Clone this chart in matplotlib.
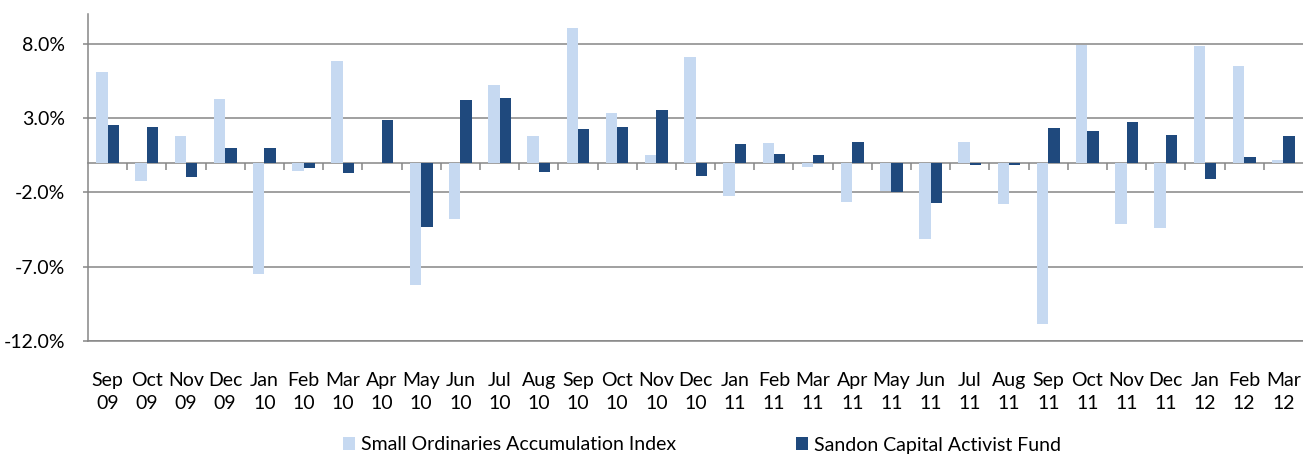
import matplotlib
matplotlib.use("Agg")
import matplotlib.pyplot as plt
import numpy as np

months = ["Sep", "Oct", "Nov", "Dec", "Jan", "Feb", "Mar", "Apr", "May", "Jun",
          "Jul", "Aug", "Sep", "Oct", "Nov", "Dec", "Jan", "Feb", "Mar", "Apr",
          "May", "Jun", "Jul", "Aug", "Sep", "Oct", "Nov", "Dec", "Jan", "Feb", "Mar"]
years = ["09", "09", "09", "09", "10", "10", "10", "10", "10", "10",
         "10", "10", "10", "10", "10", "10", "11", "11", "11", "11",
         "11", "11", "11", "11", "11", "11", "11", "11", "12", "12", "12"]
small_ords = [6.1, -1.23, 1.79, 4.28, -7.49, -0.56, 6.84, 0.0, -8.23, -3.79,
              5.22, 1.79, 9.06, 3.34, 0.52, 7.11, -2.24, 1.32, -0.29, -2.65,
              -1.91, -5.13, 1.39, -2.78, -10.85, 7.94, -4.13, -4.39, 7.85, 6.50, 0.18]
sandon = [2.53, 2.40, -0.96, 0.99, 0.99, -0.36, -0.70, 2.87, -4.33, 4.22,
          4.35, -0.63, 2.26, 2.40, 3.54, -0.90, 1.26, 0.58, 0.52, 1.39,
          -1.97, -2.71, -0.16, -0.16, 2.33, 2.13, 2.74, 1.86, -1.10, 0.38, 1.79]
yticks = [-12.0, -7.0, -2.0, 3.0, 8.0]

labels = [f"{m}\n{y}" for m, y in zip(months, years)]

plt.rcParams['font.family'] = ['Lato', 'DejaVu Sans']

light = "#C6D9F1"
dark = "#1F497D"
grey = "#868686"

fig = plt.figure(figsize=(13.03, 4.55), dpi=100)
ax = fig.add_axes([88/1303, 1-341/455, 1-88/1303, (341-14)/455])

n = len(months)
x = np.arange(n)
w = 0.29
ax.bar(x - w/2, small_ords, width=w, color=light, label="Small Ordinaries Accumulation Index", zorder=2)
ax.bar(x + w/2, sandon, width=w, color=dark, label="Sandon Capital Activist Fund", zorder=2)

ax.set_xlim(-0.5, n - 0.5)
ax.set_ylim(-12, 10)
ax.set_yticks(yticks)
ax.set_yticklabels([f"{v:.1f}%" for v in yticks], fontsize=14)
ax.yaxis.grid(True, color=grey, linewidth=1.1)
ax.set_axisbelow(True)
ax.tick_params(axis='y', length=3.6, width=1.1, color=grey, pad=13)

ax.set_xticks(x)
ax.set_xticklabels(labels, fontsize=14, linespacing=1.45)
ax.tick_params(axis='x', length=0, pad=22)

for s in ['top', 'right']:
    ax.spines[s].set_visible(False)
for s in ['left', 'bottom']:
    ax.spines[s].set_color(grey)
    ax.spines[s].set_linewidth(1.1)

sec = ax.secondary_xaxis(0, transform=ax.transData)
sec.set_xticks(np.arange(0.5, n - 0.5, 1.0))
sec.set_xticklabels([])
sec.tick_params(axis='x', direction='out', length=5, width=1.1, color=grey)
sec.spines['bottom'].set_color(grey)
sec.spines['bottom'].set_linewidth(1.1)

fig.legend(loc='center', bbox_to_anchor=(702/1303, 1-445/455), ncol=2, frameon=False,
           fontsize=14, handlelength=0.6, handleheight=0.6, handletextpad=0.3,
           columnspacing=6.2, borderpad=0)

fig.savefig("out.png", dpi=100)
